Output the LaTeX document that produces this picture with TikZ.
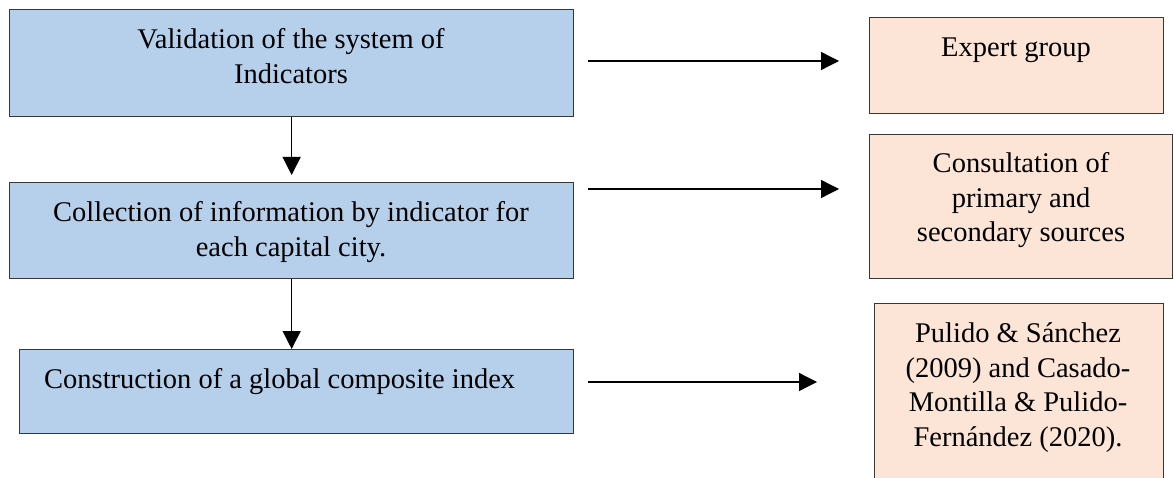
\documentclass[tikz,border=0pt]{standalone}
\usepackage{fontspec}
\setmainfont{Liberation Serif}
\usetikzlibrary{arrows.meta}
\definecolor{boxblue}{RGB}{182,207,234}
\definecolor{boxpeach}{RGB}{252,228,214}
\definecolor{boxedge}{RGB}{55,55,55}
\tikzset{
    bluebox/.style={draw=boxedge, line width=1.3pt, fill=boxblue, inner sep=0pt, anchor=north west},
    peachbox/.style={draw=boxedge, line width=1.3pt, fill=boxpeach, inner sep=0pt, anchor=north west},
    boxtext/.style={inner sep=0pt, align=center, font=\fontsize{28.5}{34.5}\selectfont},
    flow/.style={line width=1.3pt, -{Triangle[length=18pt, width=18pt]}}
}
\begin{document}
\begin{tikzpicture}[x=1pt, y=-1pt]
        \clip (0,0) rectangle (1174,478);
        % left column
        \node[bluebox, minimum width=564pt, minimum height=107pt] (valid) at (9,9) {};
        \node[bluebox, minimum width=564pt, minimum height=96pt] (collect) at (9,182) {};
        \node[bluebox, minimum width=554pt, minimum height=84pt] (construct) at (19,349) {};
        % right column
        \node[peachbox, minimum width=294pt, minimum height=96pt] (expert) at (869,17) {};
        \node[peachbox, minimum width=303pt, minimum height=144pt] (consult) at (869,134) {};
        \node[peachbox, minimum width=289pt, minimum height=200pt] (pulido) at (874,303) {};
        % texts
        \node[boxtext, anchor=north] (valid-t) at (291,28.5)
            {Validation of the system of\\Indicators};
        \node[boxtext, anchor=north] (collect-t) at (291,201.5)
            {Collection of information by indicator for\\each capital city.};
        \node[boxtext, anchor=base west] (construct-t) at (44,388)
            {Construction of a global composite index};
        \node[boxtext, anchor=base] (expert-t) at (1016,57) {Expert group};
        \node[boxtext, anchor=north] (consult-t) at (1021,152.5)
            {Consultation of\\primary and\\secondary sources};
        \node[boxtext, anchor=north] (pulido-t) at (1018,322.5)
            {Pulido \& Sánchez\\(2009) and Casado-\\Montilla \& Pulido-\\Fernández (2020).};
        % downward arrows
        \draw[flow] (valid.south) -- ([yshift=7pt]collect.north);
        \draw[flow] (collect.south) -- (collect.south |- construct.north);
        % arrows to the right column
        \coordinate (out1) at (588,61);
        \coordinate (in1) at (839,61);
        \coordinate (out2) at (588,189);
        \coordinate (in2) at (839,189);
        \coordinate (out3) at (588,382);
        \coordinate (in3) at (817,382);
        \draw[flow] (out1) -- (in1);
        \draw[flow] (out2) -- (in2);
        \draw[flow] (out3) -- (in3);
\end{tikzpicture}
\end{document}
